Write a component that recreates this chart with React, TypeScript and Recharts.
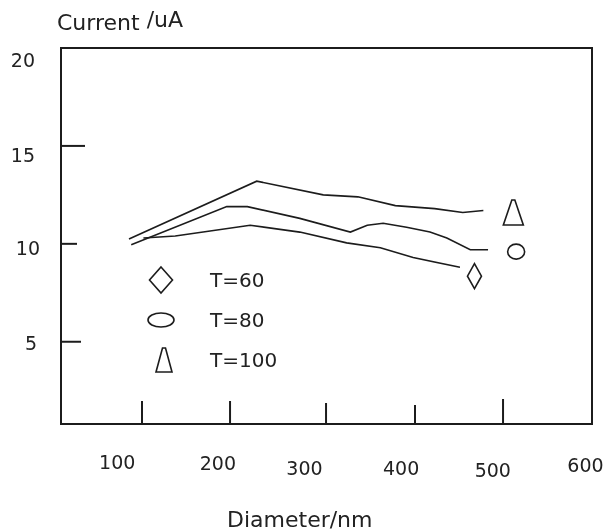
import React from "react";
import {
  ComposedChart,
  Line,
  Scatter,
  XAxis,
  YAxis,
  ReferenceLine,
  ReferenceArea,
} from "recharts";

// ---- data ----
const seriesT60 = [
  { x: 128, y: 10.3 },
  { x: 162, y: 10.4 },
  { x: 242, y: 10.95 },
  { x: 295, y: 10.6 },
  { x: 345, y: 10.05 },
  { x: 381, y: 9.8 },
  { x: 416, y: 9.3 },
  { x: 466, y: 8.8 },
];
const seriesT80 = [
  { x: 115, y: 9.95 },
  { x: 217, y: 11.9 },
  { x: 239, y: 11.9 },
  { x: 295, y: 11.3 },
  { x: 349, y: 10.6 },
  { x: 367, y: 10.95 },
  { x: 384, y: 11.05 },
  { x: 409, y: 10.85 },
  { x: 434, y: 10.6 },
  { x: 452, y: 10.3 },
  { x: 477, y: 9.7 },
  { x: 496, y: 9.7 },
];
const seriesT100 = [
  { x: 112.6, y: 10.25 },
  { x: 249, y: 13.2 },
  { x: 320, y: 12.5 },
  { x: 357, y: 12.4 },
  { x: 397, y: 11.95 },
  { x: 439, y: 11.8 },
  { x: 469, y: 11.6 },
  { x: 491, y: 11.7 },
];
const endMarkers = [
  { x: 481.5, y: 8.35, kind: "diamond" },
  { x: 526, y: 9.6, kind: "circle" },
  { x: 523, y: 11.6, kind: "triangle" },
];
const legendLabels = ["T=60", "T=80", "T=100"];
const legendKinds = ["diamond", "ellipse", "triangle"];
const xTickLabels = [100, 200, 300, 400, 500, 600];
const yTickLabels = [5, 10, 15, 20];
const xTickMarks = [126.5, 220.5, 323, 418, 512];
const yTickMarks = [15, 10, 5];
const X_DOMAIN: [number, number] = [40, 607];
const Y_DOMAIN: [number, number] = [0.8, 20];

// ---- layout / style ----
const W = 597;
const H = 523;
const MARGIN = { top: 40, right: 13, bottom: 47, left: 8 };
const Y_AXIS_W = 45;
const X_AXIS_H = 60;
const PLOT_W = W - MARGIN.left - MARGIN.right - Y_AXIS_W;
const PLOT_H = H - MARGIN.top - MARGIN.bottom - X_AXIS_H;
const X_PX = PLOT_W / (X_DOMAIN[1] - X_DOMAIN[0]);
const Y_PX = PLOT_H / (Y_DOMAIN[1] - Y_DOMAIN[0]);
const FONT = "'DejaVu Sans', sans-serif";
const INK = "#1c1c1c";
const TEXT = "#222";
const xTickMarkLens = [23, 23, 21, 19, 25];
const yTickMarkLens = [24, 16, 20];
const xLabelOffsets: Record<number, { dx: number; dy: number }> = {
  100: { dx: 0, dy: 38 },
  200: { dx: 7, dy: 39 },
  300: { dx: 0, dy: 44 },
  400: { dx: 3, dy: 44 },
  500: { dx: 1, dy: 46 },
  600: { dx: 0, dy: 41 },
};
const yLabelOffsets: Record<number, { dx: number; dy: number }> = {
  20: { dx: -26, dy: 12 },
  15: { dx: -26, dy: 9 },
  10: { dx: -21, dy: 4 },
  5: { dx: -24, dy: 1 },
};
const endMarkerSizes: Record<string, { w: number; h: number }> = {
  diamond: { w: 14, h: 25 },
  circle: { w: 17, h: 15 },
  triangle: { w: 20, h: 25 },
};
const legendMarkerSizes: Record<string, { w: number; h: number }> = {
  diamond: { w: 23, h: 26 },
  ellipse: { w: 26, h: 14 },
  triangle: { w: 16, h: 24 },
};

function MarkerShape({ cx, cy, kind, w, h }: any) {
  const common = { fill: "none", stroke: INK, strokeWidth: 1.6 };
  if (kind === "diamond") {
    const p = `${cx},${cy - h / 2} ${cx + w / 2},${cy} ${cx},${cy + h / 2} ${cx - w / 2},${cy}`;
    return <polygon points={p} {...common} />;
  }
  if (kind === "triangle") {
    const p = `${cx - 1.5},${cy - h / 2} ${cx + 1.5},${cy - h / 2} ${cx + w / 2},${cy + h / 2} ${cx - w / 2},${cy + h / 2}`;
    return <polygon points={p} {...common} strokeLinejoin="miter" />;
  }
  return <ellipse cx={cx} cy={cy} rx={w / 2} ry={h / 2} {...common} />;
}

function XTick({ x, y, payload }: any) {
  const o = xLabelOffsets[payload.value] || { dx: 0, dy: 40 };
  return (
    <text
      x={x + o.dx}
      y={y + o.dy}
      textAnchor="middle"
      dominantBaseline="central"
      fontFamily={FONT}
      fontSize={19}
      fill={TEXT}
    >
      {payload.value}
    </text>
  );
}

function YTick({ x, y, payload }: any) {
  const o = yLabelOffsets[payload.value] || { dx: -24, dy: 0 };
  return (
    <text
      x={x + o.dx}
      y={y + o.dy}
      textAnchor="end"
      dominantBaseline="central"
      fontFamily={FONT}
      fontSize={19}
      fill={TEXT}
    >
      {payload.value}
    </text>
  );
}

export default function App() {
  const legendX = 153;
  const legendTextX = 202;
  const legendYs = [272, 312, 352];
  return (
    <div style={{ position: "fixed", left: 8, top: 8, width: W, height: H }}>
      <ComposedChart width={W} height={H} margin={MARGIN}>
        <XAxis
          type="number"
          dataKey="x"
          domain={X_DOMAIN}
          ticks={xTickLabels}
          axisLine={false}
          tickLine={false}
          tickSize={0}
          tickMargin={0}
          height={X_AXIS_H}
          tick={<XTick />}
          allowDataOverflow
          interval={0}
        />
        <YAxis
          type="number"
          domain={Y_DOMAIN}
          ticks={yTickLabels}
          axisLine={false}
          tickLine={false}
          tickSize={0}
          tickMargin={0}
          width={Y_AXIS_W}
          tick={<YTick />}
          allowDataOverflow
          interval={0}
        />
        <ReferenceArea
          x1={X_DOMAIN[0]}
          x2={X_DOMAIN[1]}
          y1={Y_DOMAIN[0]}
          y2={Y_DOMAIN[1]}
          fill="none"
          fillOpacity={0}
          stroke={INK}
          strokeWidth={2}
          ifOverflow="visible"
        />
        {xTickMarks.map((v, i) => (
          <ReferenceLine
            key={"xt" + i}
            segment={[
              { x: v, y: Y_DOMAIN[0] },
              { x: v, y: Y_DOMAIN[0] + xTickMarkLens[i] / Y_PX },
            ]}
            stroke={INK}
            strokeWidth={2}
            ifOverflow="visible"
          />
        ))}
        {yTickMarks.map((v, i) => (
          <ReferenceLine
            key={"yt" + i}
            segment={[
              { x: X_DOMAIN[0], y: v },
              { x: X_DOMAIN[0] + yTickMarkLens[i] / X_PX, y: v },
            ]}
            stroke={INK}
            strokeWidth={2}
            ifOverflow="visible"
          />
        ))}
        <Line
          data={seriesT60}
          dataKey="y"
          type="linear"
          stroke={INK}
          strokeWidth={1.6}
          dot={false}
          isAnimationActive={false}
        />
        <Line
          data={seriesT80}
          dataKey="y"
          type="linear"
          stroke={INK}
          strokeWidth={1.6}
          dot={false}
          isAnimationActive={false}
        />
        <Line
          data={seriesT100}
          dataKey="y"
          type="linear"
          stroke={INK}
          strokeWidth={1.6}
          dot={false}
          isAnimationActive={false}
        />
        <Scatter
          data={endMarkers}
          dataKey="y"
          isAnimationActive={false}
          shape={(p: any) => {
            const s = endMarkerSizes[p.payload.kind];
            return <MarkerShape cx={p.cx} cy={p.cy} kind={p.payload.kind} w={s.w} h={s.h} />;
          }}
        />
      </ComposedChart>
      <svg
        width={W}
        height={H}
        style={{ position: "absolute", left: 0, top: 0, pointerEvents: "none" }}
      >
        <text x={49} y={22} fontFamily={FONT} fontSize={22} fill={TEXT}>
          Current <tspan dy={-3}>/uA</tspan>
        </text>
        <text x={219} y={519} fontFamily={FONT} fontSize={22} fill={TEXT}>
          Diameter/nm
        </text>
        {legendLabels.map((lab, i) => {
          const kind = legendKinds[i];
          const s = legendMarkerSizes[kind];
          return (
            <g key={lab}>
              <MarkerShape cx={legendX + (kind === "triangle" ? 3 : 0)} cy={legendYs[i]} kind={kind} w={s.w} h={s.h} />
              <text
                x={legendTextX}
                y={legendYs[i]}
                dominantBaseline="central"
                fontFamily={FONT}
                fontSize={20}
                fill={TEXT}
              >
                {lab}
              </text>
            </g>
          );
        })}
      </svg>
    </div>
  );
}
